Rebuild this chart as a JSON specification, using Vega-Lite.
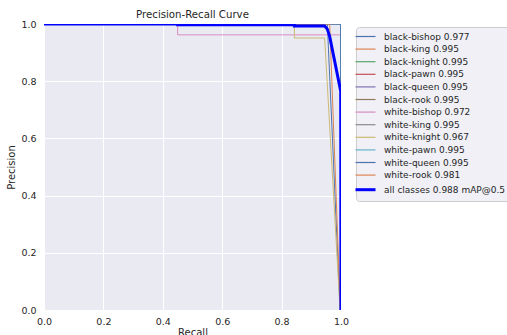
{
  "$schema": "https://vega.github.io/schema/vega-lite/v6.json",
  "width": 297,
  "height": 286,
  "autosize": {"type": "none"},
  "padding": {"left": 44, "top": 24, "right": 166, "bottom": 25},
  "background": "white",
  "title": {"text": "Precision-Recall Curve", "font": "DejaVu Sans", "fontSize": 10.2, "fontWeight": "normal", "color": "#262626", "offset": -1, "anchor": "middle"},
  "config": {
    "view": {"fill": "#EAEAF2", "stroke": null},
    "axis": {"domain": false, "ticks": false, "labelFlush": false, "gridColor": "#FFFFFF", "gridWidth": 1, "labelFont": "DejaVu Sans", "labelFontSize": 9.5, "labelColor": "#262626", "titleFont": "DejaVu Sans", "titleFontSize": 10, "titleFontWeight": "normal", "titleColor": "#262626"}
  },
  "data": {"values": [
    {"series": "black-bishop 0.977", "i": 0, "recall": 0, "precision": 1},
    {"series": "black-bishop 0.977", "i": 1, "recall": 0.954, "precision": 1},
    {"series": "black-bishop 0.977", "i": 2, "recall": 0.997, "precision": 0},
    {"series": "black-king 0.995", "i": 0, "recall": 0, "precision": 1},
    {"series": "black-king 0.995", "i": 1, "recall": 0.999, "precision": 1},
    {"series": "black-king 0.995", "i": 2, "recall": 1, "precision": 0},
    {"series": "black-knight 0.995", "i": 0, "recall": 0, "precision": 1},
    {"series": "black-knight 0.995", "i": 1, "recall": 0.999, "precision": 1},
    {"series": "black-knight 0.995", "i": 2, "recall": 1, "precision": 0},
    {"series": "black-pawn 0.995", "i": 0, "recall": 0, "precision": 1},
    {"series": "black-pawn 0.995", "i": 1, "recall": 0.999, "precision": 1},
    {"series": "black-pawn 0.995", "i": 2, "recall": 1, "precision": 0},
    {"series": "black-queen 0.995", "i": 0, "recall": 0, "precision": 1},
    {"series": "black-queen 0.995", "i": 1, "recall": 0.999, "precision": 1},
    {"series": "black-queen 0.995", "i": 2, "recall": 1, "precision": 0},
    {"series": "black-rook 0.995", "i": 0, "recall": 0, "precision": 1},
    {"series": "black-rook 0.995", "i": 1, "recall": 0.999, "precision": 1},
    {"series": "black-rook 0.995", "i": 2, "recall": 1, "precision": 0},
    {"series": "white-bishop 0.972", "i": 0, "recall": 0, "precision": 1},
    {"series": "white-bishop 0.972", "i": 1, "recall": 0.45, "precision": 1},
    {"series": "white-bishop 0.972", "i": 2, "recall": 0.45, "precision": 0.962},
    {"series": "white-bishop 0.972", "i": 3, "recall": 0.999, "precision": 0.962},
    {"series": "white-bishop 0.972", "i": 4, "recall": 1, "precision": 0},
    {"series": "white-king 0.995", "i": 0, "recall": 0, "precision": 1},
    {"series": "white-king 0.995", "i": 1, "recall": 0.999, "precision": 1},
    {"series": "white-king 0.995", "i": 2, "recall": 1, "precision": 0},
    {"series": "white-knight 0.967", "i": 0, "recall": 0, "precision": 1},
    {"series": "white-knight 0.967", "i": 1, "recall": 0.843, "precision": 1},
    {"series": "white-knight 0.967", "i": 2, "recall": 0.843, "precision": 0.951},
    {"series": "white-knight 0.967", "i": 3, "recall": 0.945, "precision": 0.951},
    {"series": "white-knight 0.967", "i": 4, "recall": 0.997, "precision": 0},
    {"series": "white-pawn 0.995", "i": 0, "recall": 0, "precision": 1},
    {"series": "white-pawn 0.995", "i": 1, "recall": 0.999, "precision": 1},
    {"series": "white-pawn 0.995", "i": 2, "recall": 1, "precision": 0},
    {"series": "white-queen 0.995", "i": 0, "recall": 0, "precision": 1},
    {"series": "white-queen 0.995", "i": 1, "recall": 0.999, "precision": 1},
    {"series": "white-queen 0.995", "i": 2, "recall": 1, "precision": 0},
    {"series": "white-rook 0.981", "i": 0, "recall": 0, "precision": 1},
    {"series": "white-rook 0.981", "i": 1, "recall": 0.962, "precision": 1},
    {"series": "white-rook 0.981", "i": 2, "recall": 0.998, "precision": 0},
    {"series": "all classes 0.988 mAP@0.5", "i": 0, "recall": 0, "precision": 1},
    {"series": "all classes 0.988 mAP@0.5", "i": 1, "recall": 0.45, "precision": 1},
    {"series": "all classes 0.988 mAP@0.5", "i": 2, "recall": 0.45, "precision": 0.997},
    {"series": "all classes 0.988 mAP@0.5", "i": 3, "recall": 0.843, "precision": 0.997},
    {"series": "all classes 0.988 mAP@0.5", "i": 4, "recall": 0.843, "precision": 0.993},
    {"series": "all classes 0.988 mAP@0.5", "i": 5, "recall": 0.945, "precision": 0.993},
    {"series": "all classes 0.988 mAP@0.5", "i": 6, "recall": 0.954, "precision": 0.982},
    {"series": "all classes 0.988 mAP@0.5", "i": 7, "recall": 0.962, "precision": 0.956},
    {"series": "all classes 0.988 mAP@0.5", "i": 8, "recall": 0.999, "precision": 0.765},
    {"series": "all classes 0.988 mAP@0.5", "i": 9, "recall": 1, "precision": 0}
  ]},
  "encoding": {
    "x": {"field": "recall", "type": "quantitative", "scale": {"domain": [0, 1], "nice": false, "zero": false},
          "axis": {"values": [0, 0.2, 0.4, 0.6, 0.8, 1], "format": ".1f", "labelPadding": 6, "title": "Recall", "titlePadding": 2}},
    "y": {"field": "precision", "type": "quantitative", "scale": {"domain": [0, 1], "nice": false, "zero": false},
          "axis": {"values": [0, 0.2, 0.4, 0.6, 0.8, 1], "format": ".1f", "labelPadding": 8, "title": "Precision", "titlePadding": 4}},
    "order": {"field": "i", "type": "quantitative"},
    "color": {"field": "series", "type": "nominal",
      "scale": {
        "domain": ["black-bishop 0.977", "black-king 0.995", "black-knight 0.995", "black-pawn 0.995", "black-queen 0.995", "black-rook 0.995", "white-bishop 0.972", "white-king 0.995", "white-knight 0.967", "white-pawn 0.995", "white-queen 0.995", "white-rook 0.981", "all classes 0.988 mAP@0.5"],
        "range": ["#4C72B0", "#DD8452", "#55A868", "#C44E52", "#8172B3", "#937860", "#DA8BC3", "#8C8C8C", "#CCB974", "#64B5CD", "#4C72B0", "#DD8452", "#0000FF"]
      },
      "legend": {
        "orient": "none", "legendX": 312, "legendY": 3, "title": null,
        "symbolType": "stroke", "symbolSize": 400, "symbolStrokeWidth": 1.2,
        "labelFont": "DejaVu Sans", "labelFontSize": 9.0, "labelColor": "#262626", "labelOffset": 14, "labelLimit": 200,
        "rowPadding": 2.6, "padding": 5, "fillColor": "#F0F0F6", "strokeColor": "#CCCCCC", "cornerRadius": 3,
        "encode": {"symbols": {"update": {"strokeWidth": {"signal": "datum.value === 'all classes 0.988 mAP@0.5' ? 3 : 1.2"}}}}
      }
    }
  },
  "layer": [
    {"transform": [{"filter": "datum.series !== 'all classes 0.988 mAP@0.5'"}],
     "mark": {"type": "line", "strokeWidth": 1, "clip": true}},
    {"transform": [{"filter": "datum.series === 'all classes 0.988 mAP@0.5'"}],
     "mark": {"type": "line", "strokeWidth": 3, "clip": true}}
  ]
}
